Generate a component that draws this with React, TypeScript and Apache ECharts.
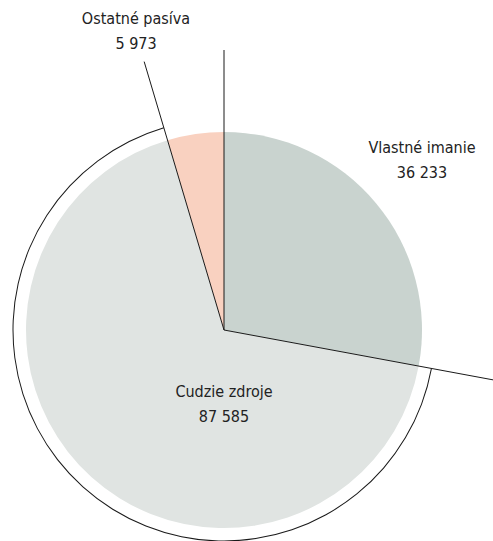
import React, { useEffect, useRef } from "react";
import * as echarts from "echarts";

const categories = ["Vlastné imanie", "Cudzie zdroje", "Ostatné pasíva"];
const values = [36233, 87585, 5973];
const colors = ["#c9d3cf", "#e0e4e2", "#f9d1c0"];

const CX = 224;
const CY = 330;
const R = 198;
const LINE_LEN = 280;
const labelPos: [number, number][] = [
  [422, 160],
  [224, 404],
  [136, 31],
];

const fmt = (v: number) => String(v).replace(/\B(?=(\d{3})+(?!\d))/g, " ");

export default function App() {
  const ref = useRef<HTMLDivElement>(null);
  useEffect(() => {
    if (!ref.current) return;
    const chart = echarts.init(ref.current, null, { renderer: "svg" });
    const total = values.reduce((a, b) => a + b, 0);
    const bounds: number[] = [];
    let acc = 90;
    bounds.push(acc);
    values.forEach((v, i) => {
      acc -= (v / total) * 360;
      if (i < values.length - 1) bounds.push(acc);
    });
    const lines = bounds.map((a) => {
      const rad = (a * Math.PI) / 180;
      return {
        type: "line",
        z: 100,
        shape: {
          x1: CX,
          y1: CY,
          x2: CX + LINE_LEN * Math.cos(rad),
          y2: CY - LINE_LEN * Math.sin(rad),
        },
        style: { stroke: "#1a1a1a", lineWidth: 1 },
      };
    });
    const font = "'DejaVu Sans Condensed', sans-serif";
    chart.setOption({
      animation: false,
      backgroundColor: "#ffffff",
      graphic: lines,
      series: [
        {
          type: "pie",
          center: [CX, CY],
          radius: [0, R],
          startAngle: 90,
          clockwise: true,
          silent: true,
          data: categories.map((c, i) => ({
            name: c,
            value: values[i],
            itemStyle: { color: colors[i] },
          })),
          label: {
            show: true,
            position: "inside",
            formatter: (p: any) => `${p.name}\n${fmt(p.value)}`,
            fontFamily: font,
            fontSize: 16,
            lineHeight: 25,
            color: "#222222",
            align: "center",
          },
          labelLine: { show: false },
          labelLayout: (p: any) => ({
            x: labelPos[p.dataIndex][0],
            y: labelPos[p.dataIndex][1],
            align: "center",
            verticalAlign: "middle",
          }),
          emphasis: { disabled: true },
        },
        {
          type: "pie",
          center: [CX, CY],
          radius: [210.5, 211.5],
          startAngle: 90,
          clockwise: true,
          silent: true,
          data: categories.map((c, i) => ({
            name: c,
            value: values[i],
            itemStyle: { color: i === 1 ? "#1a1a1a" : "rgba(0,0,0,0)" },
          })),
          label: { show: false },
          labelLine: { show: false },
          emphasis: { disabled: true },
        },
      ],
    });
    return () => chart.dispose();
  }, []);
  return (
    <div
      ref={ref}
      style={{ position: "fixed", left: 0, top: 0, width: 493, height: 541 }}
    />
  );
}
